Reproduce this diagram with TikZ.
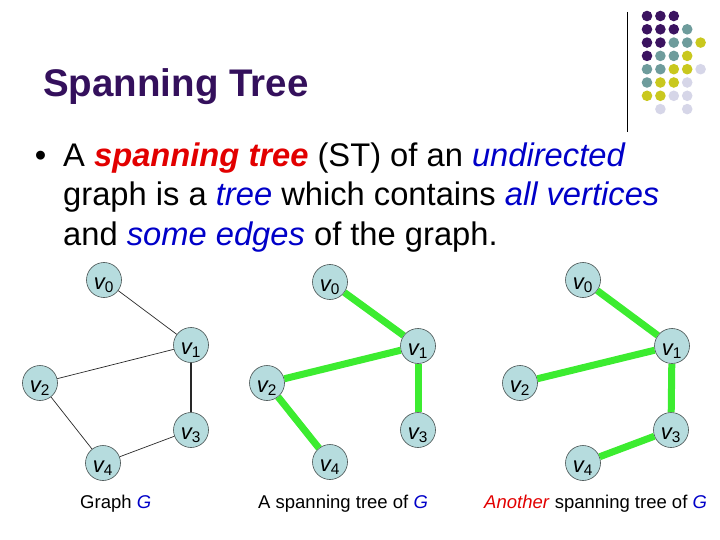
\documentclass[tikz,border=0pt]{standalone}
\usepackage{fontspec}
\setmainfont{Liberation Sans}
\usepackage{tikz}
\usetikzlibrary{positioning}
\definecolor{TitlePurple}{RGB}{52,16,92}
\definecolor{HotRed}{RGB}{226,0,0}
\definecolor{KeyBlue}{RGB}{0,0,200}
\definecolor{VertexFill}{RGB}{182,220,222}
\definecolor{VertexLine}{RGB}{70,80,80}
\definecolor{EdgeGray}{RGB}{40,40,40}
\definecolor{TreeGreen}{RGB}{60,236,48}
\definecolor{DotP}{RGB}{59,19,96}
\definecolor{DotT}{RGB}{110,156,156}
\definecolor{DotY}{RGB}{201,200,30}
\definecolor{DotL}{RGB}{214,214,232}
\newcommand{\bodyfont}{\fontsize{32.7}{39}\selectfont}
\newcommand{\capfont}{\fontsize{18.5}{22}\selectfont}
\newcommand{\vlabel}[1]{{\itshape v}\textsubscript{#1}}
\tikzset{
  vertex/.style={circle,draw=VertexLine,fill=VertexFill,line width=0.6pt,minimum size=35pt,inner sep=0pt,text height=18.4pt,text depth=0pt,font=\fontsize{22}{22}\selectfont},
  plainedge/.style={draw=EdgeGray,line width=0.7pt},
  treeedge/.style={draw=TreeGreen,line width=7pt},
  textline/.style={anchor=base west,inner sep=0pt,font=\bodyfont},
  caption/.style={anchor=base west,inner sep=0pt,font=\capfont}
}

\begin{document}
\begin{tikzpicture}[x=1pt,y=-1pt]
\useasboundingbox (0,0) rectangle (720,540);
% title and corner decoration
\node[anchor=base west,inner sep=0pt,font=\fontsize{38.5}{40}\selectfont\bfseries,text=TitlePurple] (title) at (43,97) {Spanning Tree};
\draw[line width=0.8pt] (627,12) -- (627,132);
\foreach \r/\row in {1/{DotP,DotP,DotP},2/{DotP,DotP,DotP,DotT},3/{DotP,DotP,DotT,DotT,DotY},4/{DotP,DotT,DotT,DotY},5/{DotT,DotT,DotY,DotY,DotL},6/{DotT,DotY,DotY,DotL},7/{DotY,DotY,DotL,DotL},8/{none,DotL,none,DotL}}
  \foreach \col [count=\c] in \row
    \path[fill=\col] (633.6+13.4*\c,2.7+13.3*\r) circle (5.3);
% bullet text
\node[anchor=base,inner sep=0pt,font=\bodyfont] (bullet) at (40.7,167) {\textbullet};
\node[textline] (line1) at (63,167) {A \textcolor{HotRed}{\textbf{\textit{spanning tree}}} (ST) of an \textcolor{KeyBlue}{\textit{undirected}}};
\node[textline] (line2) at (63,206) {graph is a \textcolor{KeyBlue}{\textit{tree}} which contains \textcolor{KeyBlue}{\textit{all vertices}}};
\node[textline] (line3) at (63,245) {and \textcolor{KeyBlue}{\textit{some edges}} of the graph.};
% graph G
\node[vertex] (a0) at (104,280) {\vlabel{0}};
\node[vertex] (a1) at (191,345) {\vlabel{1}};
\node[vertex] (a2) at (40,383) {\vlabel{2}};
\node[vertex] (a3) at (191,430) {\vlabel{3}};
\node[vertex] (a4) at (103,463) {\vlabel{4}};
\draw[plainedge] (a0) -- (a1);
\draw[plainedge] (a1) -- (a2);
\draw[plainedge,line width=1.1pt] (a1) -- (a3);
\draw[plainedge] (a2) -- (a4);
\draw[plainedge] (a3) -- (a4);
% first spanning tree
\node[vertex] (b0) at (330,282) {\vlabel{0}};
\node[vertex] (b1) at (418,346) {\vlabel{1}};
\node[vertex] (b2) at (267,383) {\vlabel{2}};
\node[vertex] (b3) at (418,430) {\vlabel{3}};
\node[vertex] (b4) at (330,462) {\vlabel{4}};
\draw[treeedge] (b0) -- (b1);
\draw[treeedge] (b1) -- (b2);
\draw[treeedge] (b1) -- (b3);
\draw[treeedge] (b2) -- (b4);
% second spanning tree
\node[vertex] (c0) at (583,280) {\vlabel{0}};
\node[vertex] (c1) at (672,346) {\vlabel{1}};
\node[vertex] (c2) at (520,383) {\vlabel{2}};
\node[vertex] (c3) at (671,430) {\vlabel{3}};
\node[vertex] (c4) at (583,463) {\vlabel{4}};
\draw[treeedge] (c0) -- (c1);
\draw[treeedge] (c1) -- (c2);
\draw[treeedge] (c1) -- (c3);
\draw[treeedge] (c3) -- (c4);
% captions
\node[caption] (capA) at (80,508) {Graph \textcolor{KeyBlue}{\textit{G}}};
\node[caption] (capB) at (258,508) {A spanning tree of \textcolor{KeyBlue}{\textit{G}}};
\node[caption] (capC) at (484,508) {\textcolor{HotRed}{\textit{Another}} spanning tree of \textcolor{KeyBlue}{\textit{G}}};
\end{tikzpicture}
\end{document}
